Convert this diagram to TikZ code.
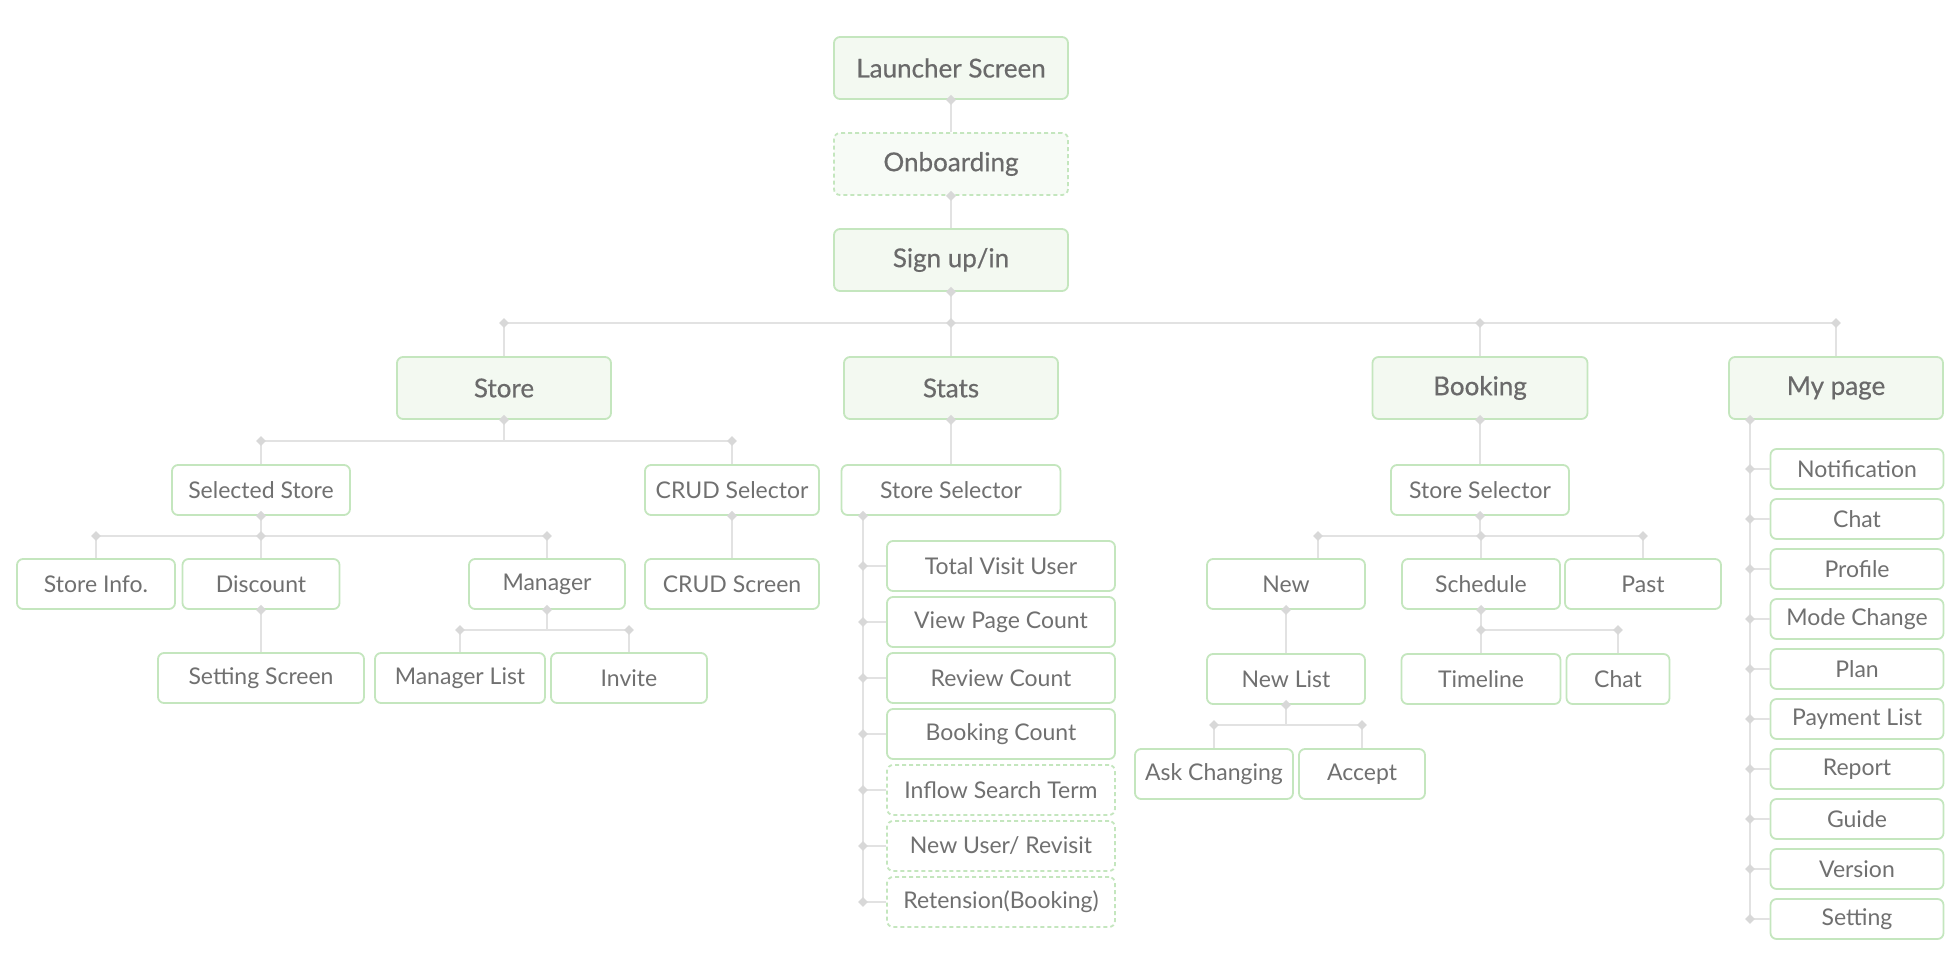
\documentclass[tikz,border=0pt]{standalone}
\usepackage{fontspec}
\setmainfont{Lato}
\newfontfamily\topfont[FakeBold=0.5]{Lato}
\usetikzlibrary{shapes.geometric}
\definecolor{bgreen}{RGB}{196,230,190}
\definecolor{topfill}{RGB}{243,249,241}
\definecolor{onbfill}{RGB}{247,251,246}
\definecolor{txt}{RGB}{112,112,112}
\definecolor{toptxt}{RGB}{106,106,106}
\definecolor{lgray}{RGB}{226,226,226}
\definecolor{dgray}{RGB}{216,216,216}
\begin{document}
\begin{tikzpicture}[x=1pt,y=-1pt,
  box/.style={draw=bgreen, line width=1.8pt, rounded corners=6pt, fill=white, text=txt,
    font=\fontsize{23}{26}\selectfont, minimum height=50pt, inner sep=0pt},
  topbox/.style={box, fill=topfill, minimum height=62pt, text=toptxt,
    font=\topfont\fontsize{26}{30}\selectfont},
  dbox/.style={dash pattern=on 4pt off 3pt},
  mbox/.style={box, minimum height=40pt, minimum width=173pt},
  sbox/.style={box, minimum width=228pt},
  conn/.style={draw=lgray, line width=2pt},
  dmd/.style={shape=diamond, fill=dgray, minimum width=10pt, minimum height=10pt, inner sep=0pt}]
\useasboundingbox (0,0) rectangle (1960,976);

% ---------- top column ----------
\node[topbox, minimum width=234pt] (launch) at (951,68) {Launcher Screen};
\node[topbox, dbox, fill=onbfill, minimum width=234pt] (onboard) at (951,164) {Onboarding};
\node[topbox, minimum width=234pt] (signup) at (951,260) {Sign up/in};

\coordinate (bus0) at (0,323);
\node[topbox, minimum width=214pt] (store) at (504,388) {Store};
\node[topbox, minimum width=214pt] (stats) at (951,388) {Stats};
\node[topbox, minimum width=215pt] (booking) at (1480,388) {Booking};
\node[topbox, minimum width=214pt] (mypage) at (1836,388) {My page};

% ---------- store subtree ----------
\coordinate (bus1) at (0,441);
\node[box, minimum width=178pt] (selstore) at (261,490) {Selected Store};
\node[box, minimum width=174pt] (crudsel) at (732,490) {CRUD Selector};
\node[box, minimum width=174pt] (crudscr) at (732,584) {CRUD Screen};
\coordinate (bus2) at (0,536);
\node[box, minimum width=158pt] (storeinfo) at (96,584) {Store Info.};
\node[box, minimum width=157pt] (discount) at (261,584) {Discount};
\node[box, minimum width=156pt] (manager) at (547,584) {Manager};
\node[box, minimum width=206pt] (setting) at (261,678) {Setting Screen};
\coordinate (bus3) at (0,630);
\node[box, minimum width=170pt] (mgrlist) at (460,678) {Manager List};
\node[box, minimum width=156pt] (invite) at (629,678) {Invite};

% ---------- stats subtree ----------
\node[box, minimum width=219pt] (ssel1) at (951,490) {Store Selector};
\coordinate (sx) at (863,0);
\node[sbox] (st1) at (1001,566) {Total Visit User};
\node[sbox] (st2) at (1001,622) {View Page Count};
\node[sbox] (st3) at (1001,678) {Review Count};
\node[sbox] (st4) at (1001,734) {Booking Count};
\node[sbox, dbox] (st5) at (1001,790) {Inflow Search Term};
\node[sbox, dbox] (st6) at (1001,846) {New User/ Revisit};
\node[sbox, dbox] (st7) at (1001,902) {Retension(Booking)};

% ---------- booking subtree ----------
\node[box, minimum width=178pt] (ssel2) at (1480,490) {Store Selector};
\coordinate (bus4) at (0,536);
\coordinate (newdrop) at (1318,536);
\node[box, minimum width=158pt] (new) at (1286,584) {New};
\node[box, minimum width=158pt] (schedule) at (1481,584) {Schedule};
\node[box, minimum width=156pt] (past) at (1643,584) {Past};
\node[box, minimum width=158pt] (newlist) at (1286,679) {New List};
\coordinate (bus5) at (0,725);
\node[box, minimum width=158pt] (ask) at (1214,774) {Ask Changing};
\node[box, minimum width=126pt] (accept) at (1362,774) {Accept};
\coordinate (bus6) at (0,630);
\node[box, minimum width=159pt] (timeline) at (1481,679) {Timeline};
\node[box, minimum width=103pt] (chat2) at (1618,679) {Chat};

% ---------- my page subtree ----------
\coordinate (mx) at (1750,0);
\node[mbox] (m1) at (1857,469) {Notification};
\node[mbox] (m2) at (1857,519) {Chat};
\node[mbox] (m3) at (1857,569) {Profile};
\node[mbox] (m4) at (1857,619) {Mode Change};
\node[mbox] (m5) at (1857,669) {Plan};
\node[mbox] (m6) at (1857,719) {Payment List};
\node[mbox] (m7) at (1857,769) {Report};
\node[mbox] (m8) at (1857,819) {Guide};
\node[mbox] (m9) at (1857,869) {Version};
\node[mbox] (m10) at (1857,919) {Setting};

% ================= connectors =================
% top column
\draw[conn] (launch.south) -- (onboard.north);
\draw[conn] (onboard.south) -- (signup.north);
\draw[conn] (signup.south) -- (signup.south |- bus0);
\draw[conn] (store.north |- bus0) -- (mypage.north |- bus0);
\foreach \n in {store,stats,booking,mypage}
  \draw[conn] (\n.north |- bus0) -- (\n.north);
\node[dmd] (dl) at (launch.south) {};
\node[dmd] (do) at (onboard.south) {};
\node[dmd] (ds) at (signup.south) {};
\foreach \n in {store,stats,booking,mypage}
  \node[dmd] (db-\n) at (\n.north |- bus0) {};

% store
\draw[conn] (store.south) -- (store.south |- bus1);
\draw[conn] (selstore.north |- bus1) -- (crudsel.north |- bus1);
\foreach \n in {selstore,crudsel}
  \draw[conn] (\n.north |- bus1) -- (\n.north);
\node[dmd] (dst) at (store.south) {};
\foreach \n in {selstore,crudsel}
  \node[dmd] (db-\n) at (\n.north |- bus1) {};
\draw[conn] (crudsel.south) -- (crudscr.north);
\node[dmd] (dcs) at (crudsel.south) {};

\draw[conn] (selstore.south) -- (selstore.south |- bus2);
\draw[conn] (storeinfo.north |- bus2) -- (manager.north |- bus2);
\foreach \n in {storeinfo,discount,manager}
  \draw[conn] (\n.north |- bus2) -- (\n.north);
\node[dmd] (dss) at (selstore.south) {};
\foreach \n in {storeinfo,discount,manager}
  \node[dmd] (db-\n) at (\n.north |- bus2) {};

\draw[conn] (discount.south) -- (setting.north);
\node[dmd] (ddc) at (discount.south) {};

\draw[conn] (manager.south) -- (manager.south |- bus3);
\draw[conn] (mgrlist.north |- bus3) -- (invite.north |- bus3);
\foreach \n in {mgrlist,invite}
  \draw[conn] (\n.north |- bus3) -- (\n.north);
\node[dmd] (dmg) at (manager.south) {};
\foreach \n in {mgrlist,invite}
  \node[dmd] (db-\n) at (\n.north |- bus3) {};

% stats
\draw[conn] (stats.south) -- (ssel1.north);
\node[dmd] (dsta) at (stats.south) {};
\draw[conn] (sx |- ssel1.south) -- (sx |- st7.west);
\node[dmd] (dsx) at (sx |- ssel1.south) {};
\foreach \n in {st1,st2,st3,st4,st5,st6,st7}{
  \draw[conn] (sx |- \n.west) -- (\n.west);
  \node[dmd] (db-\n) at (sx |- \n.west) {};
}

% booking
\draw[conn] (booking.south) -- (ssel2.north);
\node[dmd] (dbk) at (booking.south) {};
\draw[conn] (ssel2.south) -- (ssel2.south |- bus4);
\draw[conn] (newdrop) -- (past.north |- bus4);
\draw[conn] (newdrop) -- (newdrop |- new.north);
\foreach \n in {schedule,past}
  \draw[conn] (\n.north |- bus4) -- (\n.north);
\node[dmd] (dss2) at (ssel2.south) {};
\node[dmd] (db-new) at (newdrop) {};
\foreach \n in {schedule,past}
  \node[dmd] (db-\n) at (\n.north |- bus4) {};

\draw[conn] (new.south) -- (newlist.north);
\node[dmd] (dnw) at (new.south) {};
\draw[conn] (newlist.south) -- (newlist.south |- bus5);
\draw[conn] (ask.north |- bus5) -- (accept.north |- bus5);
\foreach \n in {ask,accept}
  \draw[conn] (\n.north |- bus5) -- (\n.north);
\node[dmd] (dnl) at (newlist.south) {};
\foreach \n in {ask,accept}
  \node[dmd] (db-\n) at (\n.north |- bus5) {};

\draw[conn] (schedule.south) -- (schedule.south |- bus6);
\draw[conn] (timeline.north |- bus6) -- (chat2.north |- bus6);
\foreach \n in {timeline,chat2}
  \draw[conn] (\n.north |- bus6) -- (\n.north);
\node[dmd] (dsc) at (schedule.south) {};
\foreach \n in {timeline,chat2}
  \node[dmd] (db-\n) at (\n.north |- bus6) {};

% my page
\draw[conn] (mx |- mypage.south) -- (mx |- m10.west);
\node[dmd] (dmx) at (mx |- mypage.south) {};
\foreach \n in {m1,m2,m3,m4,m5,m6,m7,m8,m9,m10}{
  \draw[conn] (mx |- \n.west) -- (\n.west);
  \node[dmd] (db-\n) at (mx |- \n.west) {};
}
\end{tikzpicture}
\end{document}
